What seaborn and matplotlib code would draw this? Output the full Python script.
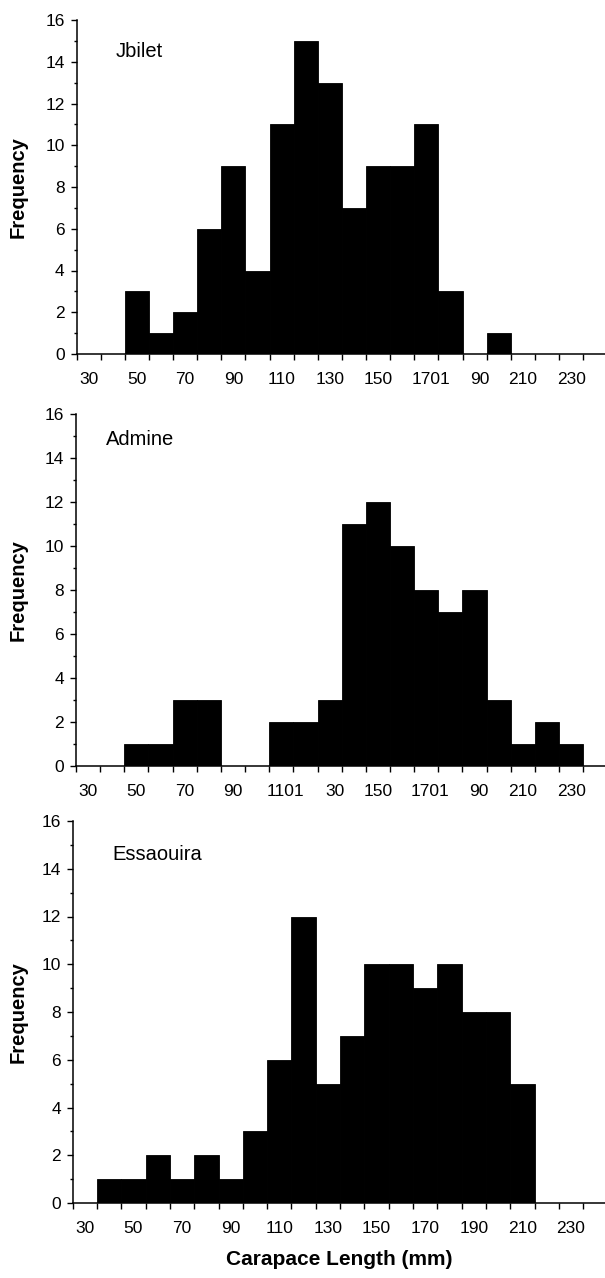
import numpy as np
import pandas as pd
import seaborn as sns
import matplotlib
matplotlib.use("Agg")
import matplotlib.pyplot as plt
from matplotlib.ticker import MultipleLocator, FixedLocator

# ---- data ----
bin_centers = [30, 40, 50, 60, 70, 80, 90, 100, 110, 120, 130, 140, 150,
               160, 170, 180, 190, 200, 210, 220, 230]
jbilet = [0, 0, 3, 1, 2, 6, 9, 4, 11, 15, 13, 7, 9, 9, 11, 3, 0, 1, 0, 0, 0]
admine = [0, 0, 1, 1, 3, 3, 0, 0, 2, 2, 3, 11, 12, 10, 8, 7, 8, 3, 1, 2, 1]
essaouira = [0, 1, 1, 2, 1, 2, 1, 3, 6, 12, 5, 7, 10, 10, 9, 10, 8, 8, 5, 0, 0]
sites = ["Jbilet", "Admine", "Essaouira"]

# tick labels as printed in the reference (some overlap in the original print)
labels_jbilet = ["30", "50", "70", "90", "110", "130", "150", "1701", "90", "210", "230"]
labels_admine = ["30", "50", "70", "90", "1101", "30", "150", "1701", "90", "210", "230"]
labels_essaouira = ["30", "50", "70", "90", "110", "130", "150", "170", "190", "210", "230"]
label_pos_jbilet = [30, 50, 70, 90, 110, 130, 150, 171.8, 192.1, 210, 230]
label_pos_admine = [30, 50, 70, 90, 111.8, 132.2, 150, 171.6, 191.9, 210, 230]
label_pos_essaouira = [30, 50, 70, 90, 110, 130, 150, 170, 190, 210, 230]

sns.set_style("ticks")
plt.rcParams["font.family"] = ["Liberation Sans", "DejaVu Sans"]

W, H = 605, 1278
fig = plt.figure(figsize=(W / 100, H / 100), dpi=100)

# axes boxes in pixels: (left, top, bottom)
boxes = [(76.5, 20, 354), (76, 414, 766), (72.7, 821, 1203)]
counts_all = [jbilet, admine, essaouira]
labels_all = [labels_jbilet, labels_admine, labels_essaouira]
pos_all = [label_pos_jbilet, label_pos_admine, label_pos_essaouira]
name_pos = [(41.4, 14.5), (37.4, 14.85), (41.5, 14.6)]

edges = [float(e) for e in range(25, 245, 10)]

for i in range(3):
    l, t, b = boxes[i]
    wpx = W - l
    ax = fig.add_axes([l / W, 1 - b / H, wpx / W, (b - t) / H])
    df = pd.DataFrame({"length": bin_centers, "count": counts_all[i]})
    sns.histplot(data=df, x="length", weights="count", bins=edges, ax=ax,
                 color="black", edgecolor="black", alpha=1.0, linewidth=0.6)
    ax.set_xlim(25, 244)
    ax.set_ylim(0, 16)
    sns.despine(ax=ax)
    for s in ("left", "bottom"):
        ax.spines[s].set_linewidth(1.1)
        ax.spines[s].set_color("black")

    # x: ticks at bin edges, labels at bin centres
    ax.xaxis.set_major_locator(FixedLocator(list(range(25, 245, 10))))
    ax.xaxis.set_minor_locator(FixedLocator(pos_all[i]))
    ax.set_xticklabels([], minor=False)
    ax.set_xticklabels(labels_all[i], minor=True)
    ax.tick_params(axis="x", which="major", length=4, width=1, direction="out",
                   color="black")
    ax.tick_params(axis="x", which="minor", length=0, pad=13, labelsize=12.5,
                   labelcolor="black")

    # y
    ax.yaxis.set_major_locator(MultipleLocator(2))
    ax.yaxis.set_minor_locator(MultipleLocator(1))
    ax.tick_params(axis="y", which="major", length=4, width=1, pad=4.5,
                   labelsize=12.5, color="black", labelcolor="black")
    ax.tick_params(axis="y", which="minor", length=2.5, width=1, color="black")

    ax.set_ylabel("Frequency", fontsize=14.5, fontweight="bold", color="black")
    ax.yaxis.set_label_coords((28 - l) / wpx, 0.5)
    ax.set_xlabel("")
    ax.text(name_pos[i][0], name_pos[i][1], sites[i], fontsize=14.5,
            va="center", ha="left", color="black")

ax.set_xlabel("Carapace Length (mm)", fontsize=15, fontweight="bold",
              color="black", labelpad=10)

fig.savefig("out.png", dpi=100)
